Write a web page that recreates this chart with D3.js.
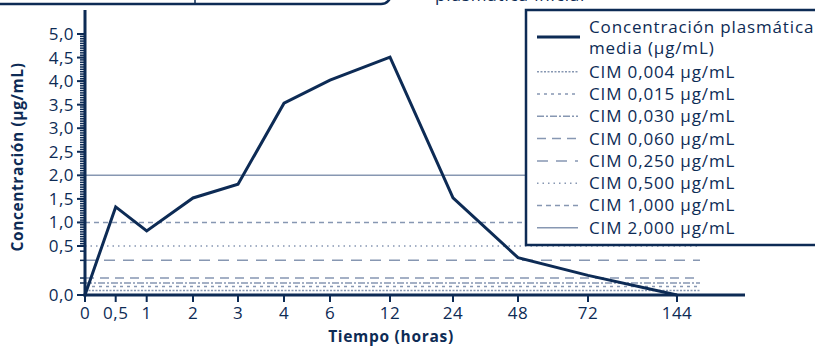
<!DOCTYPE html>
<html>
<head>
<meta charset="utf-8">
<script src="https://cdn.jsdelivr.net/npm/d3@7"></script>
<style>
  html, body { margin: 0; padding: 0; background: #fff; }
  svg { display: block; }
  text { font-family: "Open Sans", "DejaVu Sans", sans-serif; fill: #0d2b55; }
</style>
</head>
<body>
<svg id="chart" width="815" height="347"></svg>
<script>
// ---------- DATA ----------
const times = [0, 0.5, 1, 2, 3, 4, 6, 12, 24, 48, 72, 144];
const timeLabels = ["0", "0,5", "1", "2", "3", "4", "6", "12", "24", "48", "72", "144"];
const concentration = [0, 1.33, 0.82, 1.52, 1.81, 3.53, 4.02, 4.51, 1.52, 0.29, 0.08, 0];
const yTickValues = [0, 0.5, 1, 1.5, 2, 2.5, 3, 3.5, 4, 4.5, 5];
const yTickLabels = ["0,0", "0,5", "1,0", "1,5", "2,0", "2,5", "3,0", "3,5", "4,0", "4,5", "5,0"];
const micValues = [0.004, 0.015, 0.030, 0.060, 0.250, 0.500, 1.000, 2.000];
const micLabels = ["CIM 0,004 µg/mL", "CIM 0,015 µg/mL", "CIM 0,030 µg/mL", "CIM 0,060 µg/mL",
                   "CIM 0,250 µg/mL", "CIM 0,500 µg/mL", "CIM 1,000 µg/mL", "CIM 2,000 µg/mL"];
const seriesLabel = ["Concentración plasmática", "media (µg/mL)"];
const xTitle = "Tiempo (horas)";
const yTitle = "Concentración (µg/mL)";

// ---------- STYLE / LAYOUT ----------
const navy = "#0d2b55";
const micColor = "#8797b2";
const micDash = ["2,1.5", "3,4", "7,2,2,2", "9,6", "11,8", "1.5,4", "5,4", null];
const xRange = [85, 115.7, 146.7, 193, 238, 284, 330, 390, 453, 518, 588, 677];
const yZero = 295, yHalf = 246, yTop = 34;
const lineEnd = 700;
const ls = "0.85px";

const svg = d3.select("#chart");

// x: piecewise linear scale over the category ticks
const x = d3.scaleLinear().domain(times).range(xRange);
// y: square-root scale below 0.5, linear above
const yLow = d3.scaleSqrt().domain([0, 0.5]).range([yZero, yHalf]);
const yHigh = d3.scaleLinear().domain([0.5, 5]).range([yHalf, yTop]);
const y = v => (v <= 0.5 ? yLow(v) : yHigh(v));

// top caption box (cut off, as in the reference)
svg.append("rect").attr("x", -10).attr("y", -40).attr("width", 401).attr("height", 44)
  .attr("rx", 10).attr("fill", "none").attr("stroke", navy).attr("stroke-width", 2.5);
svg.append("line").attr("x1", 195).attr("x2", 195).attr("y1", -40).attr("y2", 4)
  .attr("stroke", navy).attr("stroke-width", 1.5);
svg.append("text").attr("x", 435).attr("y", 1).attr("font-size", 17)
  .attr("letter-spacing", ls).text("plasmática inicial");

// MIC lines
svg.append("g").selectAll("line").data(micValues).join("line")
  .attr("x1", x(0)).attr("x2", lineEnd)
  .attr("y1", d => y(d)).attr("y2", d => y(d))
  .attr("stroke", micColor).attr("stroke-width", 1.5)
  .attr("stroke-dasharray", (d, i) => micDash[i]);

// concentration line
svg.append("path").datum(times.map((t, i) => [t, concentration[i]]))
  .attr("fill", "none").attr("stroke", navy).attr("stroke-width", 3)
  .attr("stroke-linejoin", "miter")
  .attr("d", d3.line().x(d => x(d[0])).y(d => y(d[1])));

// y axis
const minorTicks = d3.range(0.55, 5.0001, 0.05).concat([0.06, 0.03, 0.25, 0.4]);
svg.append("g").selectAll("line").data(minorTicks).join("line")
  .attr("x1", x(0) - 5).attr("x2", x(0)).attr("y1", d => y(d)).attr("y2", d => y(d))
  .attr("stroke", navy).attr("stroke-width", 1.5);
svg.append("g").selectAll("line").data(yTickValues).join("line")
  .attr("x1", x(0) - 8).attr("x2", x(0)).attr("y1", d => y(d)).attr("y2", d => y(d))
  .attr("stroke", navy).attr("stroke-width", 2);
svg.append("g").selectAll("text").data(yTickValues).join("text")
  .attr("x", 74).attr("y", d => y(d)).attr("dy", "0.35em")
  .attr("text-anchor", "end").attr("font-size", 17).attr("letter-spacing", "0.5px")
  .text((d, i) => yTickLabels[i]);
svg.append("line").attr("x1", x(0)).attr("x2", x(0)).attr("y1", 10).attr("y2", yZero + 1.5)
  .attr("stroke", navy).attr("stroke-width", 3);

// x axis
svg.append("line").attr("x1", x(0) - 1.5).attr("x2", 745).attr("y1", yZero).attr("y2", yZero)
  .attr("stroke", navy).attr("stroke-width", 3);
svg.append("g").selectAll("line").data(times).join("line")
  .attr("x1", d => x(d)).attr("x2", d => x(d)).attr("y1", yZero).attr("y2", yZero + 7)
  .attr("stroke", navy).attr("stroke-width", 2);
svg.append("g").selectAll("text").data(times).join("text")
  .attr("x", d => x(d)).attr("y", 313).attr("dy", "0.35em")
  .attr("text-anchor", "middle").attr("font-size", 17).attr("letter-spacing", "0.5px")
  .text((d, i) => timeLabels[i]);

// axis titles
svg.append("text").attr("x", 391).attr("y", 337).attr("dy", "0.35em")
  .attr("text-anchor", "middle").attr("font-size", 15.5).attr("font-weight", "bold")
  .attr("letter-spacing", "0.7px").text(xTitle);
svg.append("text").attr("transform", "translate(18,157) rotate(-90)").attr("dy", "0.35em")
  .attr("text-anchor", "middle").attr("font-size", 15.5).attr("font-weight", "bold")
  .attr("letter-spacing", "0.6px").text(yTitle);

// legend
const lg = svg.append("g");
lg.append("rect").attr("x", 526).attr("y", 10).attr("width", 310).attr("height", 235)
  .attr("fill", "#fff").attr("stroke", navy).attr("stroke-width", 2.5);
lg.append("line").attr("x1", 537).attr("x2", 580).attr("y1", 37).attr("y2", 37)
  .attr("stroke", navy).attr("stroke-width", 3);
lg.selectAll("text.s").data(seriesLabel).join("text").attr("class", "s")
  .attr("x", 589).attr("y", (d, i) => 27 + i * 21).attr("dy", "0.35em")
  .attr("font-size", 17).attr("letter-spacing", ls).text(d => d);
const rowY = i => 71.7 + i * 22.3;
lg.selectAll("line.m").data(micValues).join("line").attr("class", "m")
  .attr("x1", 537).attr("x2", 578).attr("y1", (d, i) => rowY(i)).attr("y2", (d, i) => rowY(i))
  .attr("stroke", micColor).attr("stroke-width", 1.5)
  .attr("stroke-dasharray", (d, i) => micDash[i]);
lg.selectAll("text.m").data(micLabels).join("text").attr("class", "m")
  .attr("x", 589).attr("y", (d, i) => rowY(i)).attr("dy", "0.35em")
  .attr("font-size", 17).attr("letter-spacing", ls).text(d => d);
</script>
</body>
</html>
